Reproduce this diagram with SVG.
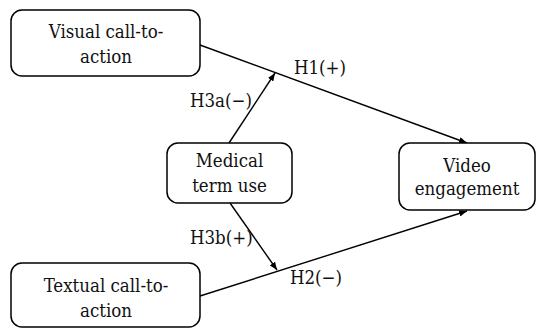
<svg xmlns="http://www.w3.org/2000/svg" width="537" height="328" viewBox="0 0 537 328">
<style>
.box{fill:#fff;stroke:#000;stroke-width:1.5}
.c{stroke:#000;stroke-width:1.4;fill:none}
.f{font-family:'DejaVu Serif Condensed','DejaVu Serif',serif;font-stretch:condensed;font-size:18.5px;fill:#111}
.m{text-anchor:middle}
</style>
<defs>
<marker id="ah" viewBox="0 0 10 8" refX="10" refY="4" markerWidth="8" markerHeight="6.4" markerUnits="userSpaceOnUse" orient="auto">
<path d="M0,0 L10,4 L0,8 z" fill="#000"/>
</marker>
</defs>
<g id="connectors">
<line class="c" x1="200" y1="45" x2="467" y2="143" marker-end="url(#ah)"/>
<line class="c" x1="200" y1="296" x2="467" y2="211" marker-end="url(#ah)"/>
<line class="c" x1="229" y1="143" x2="275" y2="73" marker-end="url(#ah)"/>
<line class="c" x1="230" y1="203" x2="277" y2="270" marker-end="url(#ah)"/>
<text class="f" x="294" y="74">H1(+)</text>
<text class="f" x="190" y="107">H3a(−)</text>
<text class="f" x="190" y="244">H3b(+)</text>
<text class="f" x="290" y="284">H2(−)</text>
</g>
<g id="visual">
<rect class="box" x="11" y="10" width="189" height="66" rx="11"/>
<text class="f m" x="106" y="38">Visual call-to-</text>
<text class="f m" x="106" y="63">action</text>
</g>
<g id="medical">
<rect class="box" x="167" y="143" width="125" height="60" rx="11"/>
<text class="f m" x="229.5" y="167">Medical</text>
<text class="f m" x="229.5" y="192">term use</text>
</g>
<g id="video">
<rect class="box" x="399" y="143" width="136" height="67" rx="11"/>
<text class="f m" x="467" y="172">Video</text>
<text class="f m" x="467" y="195">engagement</text>
</g>
<g id="textual">
<rect class="box" x="11" y="263" width="189" height="64" rx="11"/>
<text class="f m" x="106" y="292">Textual call-to-</text>
<text class="f m" x="106" y="317">action</text>
</g>
</svg>
